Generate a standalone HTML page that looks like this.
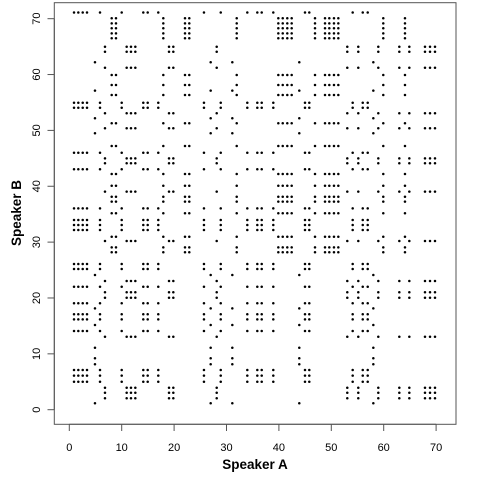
<!DOCTYPE html>
<html><head><meta charset="utf-8"><style>
html,body{margin:0;padding:0;background:#fff;}
svg{display:block;font-family:"Liberation Sans",Arial,sans-serif;}
</style></head><body>
<svg id="chart" width="480" height="480" viewBox="0 0 480 480" xmlns="http://www.w3.org/2000/svg">
<rect x="54.3" y="2.7" width="401.7" height="421.6" fill="none" stroke="#555" stroke-width="1"/>
<g id="xaxis"></g>
<g id="yaxis"></g>
<g id="points"></g>
<text x="255" y="469" text-anchor="middle" font-size="13.5" font-weight="bold">Speaker A</text>
<text transform="translate(21,213) rotate(-90)" text-anchor="middle" font-size="13.5" font-weight="bold">Speaker B</text>
</svg>
<script>
// Speaker A: time position of each token and its symbol
const aPos = [0.9,1.72,2.56,3.38,5.86,10.0,14.12,14.96,16.98,25.7,28.9,33.97,35.88,36.72,38.93,44.98,45.8,54.08,56.0,56.95,
  8.09,8.91,17.94,22.08,22.9,31.95,39.89,40.73,41.6,42.44,46.89,48.8,49.62,50.51,51.34,59.92,64.06,
  6.81,10.95,11.77,12.6,19.03,19.85,28.13,53.05,55.15,58.97,62.98,64.89,67.88,68.84,69.79,
  4.9,26.98,31.11,43.89,58.02];
const aSym = ["a","a","a","a","a","a","a","a","a","a","a","a","a","a","a","a","a","a","a","a",
  "b","b","b","b","b","b","b","b","b","b","b","b","b","b","b","b","b",
  "c","c","c","c","c","c","c","c","c","c","c","c","c","c","c",
  "d","d","d","d","d"];
// Speaker B
const bPos = [71.1,54.96,54.06,46.01,43.04,36.05,33.96,33.07,32.17,26.08,25.19,22.02,19.05,17.08,16.18,14.09,7.11,6.09,5.01,
  70.07,69.17,68.28,67.38,66.49,59.92,58.13,56.34,51.27,47.21,42.2,40.1,38.13,37.24,35.16,30.97,29.07,28.18,
  64.98,64.09,61.22,53.06,50.38,45.0,44.11,39.03,30.2,23.04,21.02,20.05,13.07,3.94,3.04,2.04,
  62.19,57.11,52.17,49.48,24.11,18.15,15.16,11.1,9.2,8.13,1.15];
const bSym = ["a","a","a","a","a","a","a","a","a","a","a","a","a","a","a","a","a","a","a",
  "b","b","b","b","b","b","b","b","b","b","b","b","b","b","b","b","b","b",
  "c","c","c","c","c","c","c","c","c","c","c","c","c","c","c","c",
  "d","d","d","d","d","d","d","d","d","d","d"];
const xTicks = [0,10,20,30,40,50,60,70];
const yTicks = [0,10,20,30,40,50,60,70];

const NS = "http://www.w3.org/2000/svg";
function sx(v){ return 69.3 + v*5.24; }
function sy(v){ return 409.7 - v*5.586; }

const xa = document.getElementById('xaxis');
const ya = document.getElementById('yaxis');
const pts = document.getElementById('points');

let l = document.createElementNS(NS,'line');


l.setAttribute('x1',sx(xTicks[0])); l.setAttribute('x2',sx(xTicks[xTicks.length-1]));
l.setAttribute('y1',424.3); l.setAttribute('y2',424.3); l.setAttribute('stroke','#555');
xa.appendChild(l);
xTicks.forEach(t=>{
  const tk = document.createElementNS(NS,'line');
  
  
  tk.setAttribute('x1',sx(t)); tk.setAttribute('x2',sx(t));
  tk.setAttribute('y1',424.3); tk.setAttribute('y2',431); tk.setAttribute('stroke','#555');
  xa.appendChild(tk);
  const tx = document.createElementNS(NS,'text');
  
  
  tx.setAttribute('x',sx(t)); tx.setAttribute('y',451);
  tx.setAttribute('text-anchor','middle'); tx.setAttribute('font-size','11');
  tx.textContent = t;
  xa.appendChild(tx);
});
let l2 = document.createElementNS(NS,'line');


l2.setAttribute('x1',54.3); l2.setAttribute('x2',54.3);
l2.setAttribute('y1',sy(yTicks[0])); l2.setAttribute('y2',sy(yTicks[yTicks.length-1])); l2.setAttribute('stroke','#555');
ya.appendChild(l2);
yTicks.forEach(t=>{
  const tk = document.createElementNS(NS,'line');
  
  
  tk.setAttribute('x1',47.5); tk.setAttribute('x2',54.3);
  tk.setAttribute('y1',sy(t)); tk.setAttribute('y2',sy(t)); tk.setAttribute('stroke','#555');
  ya.appendChild(tk);
  const tx = document.createElementNS(NS,'text');
  
  
  tx.setAttribute('transform','translate(40,'+sy(t)+') rotate(-90)');
  tx.setAttribute('text-anchor','middle'); tx.setAttribute('font-size','11');
  tx.textContent = t;
  ya.appendChild(tx);
});

for (let i=0;i<aPos.length;i++){
  for (let j=0;j<bPos.length;j++){
    if (aSym[i]===bSym[j]){
      const c = document.createElementNS(NS,'circle');
      
      
      c.setAttribute('cx',sx(aPos[i])); c.setAttribute('cy',sy(bPos[j]));
      c.setAttribute('r',1.25); c.setAttribute('fill','#000');
      pts.appendChild(c);
    }
  }
}
</script>
</body></html>
